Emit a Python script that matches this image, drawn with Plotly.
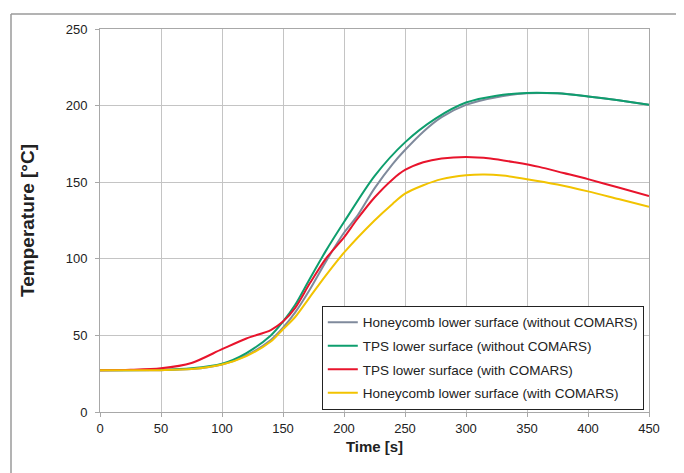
import plotly.graph_objects as go

# Time [s]
t_hc_wo = [0, 50, 75, 100, 120, 140, 150, 160, 172, 185, 200, 210, 225, 240, 250, 265, 280, 300, 325, 350, 375, 400, 425, 450]
v_hc_wo = [27.2, 27.3, 28.0, 31.0, 37.0, 47.0, 55.0, 65.0, 80.0, 98.0, 117.0, 127.0, 146.0, 162.0, 171.0, 183.0, 192.5, 200.5, 205.5, 208.0, 208.0, 206.0, 203.5, 200.5]

t_tps_wo = [0, 50, 75, 100, 120, 140, 150, 160, 172, 185, 200, 225, 250, 275, 300, 325, 350, 375, 400, 425, 450]
v_tps_wo = [27.2, 27.5, 28.5, 31.5, 38.5, 50.0, 59.0, 70.0, 87.0, 105.0, 124.0, 154.0, 176.0, 191.5, 202.0, 206.5, 208.3, 208.0, 206.0, 203.5, 200.5]

t_tps_w = [0, 25, 50, 75, 100, 120, 140, 150, 160, 172, 185, 200, 210, 225, 240, 250, 265, 280, 300, 320, 340, 360, 380, 400, 425, 450]
v_tps_w = [27.2, 27.5, 28.5, 32.0, 41.0, 48.0, 53.5, 59.0, 68.0, 84.0, 100.0, 114.0, 125.0, 140.0, 152.0, 158.0, 163.0, 165.5, 166.5, 165.5, 163.0, 160.0, 156.0, 152.0, 146.5, 141.0]

t_hc_w = [0, 50, 75, 100, 120, 140, 150, 160, 172, 185, 200, 225, 240, 250, 265, 280, 300, 315, 330, 350, 375, 400, 425, 450]
v_hc_w = [27.2, 27.3, 28.0, 31.0, 36.5, 46.0, 54.0, 62.0, 75.0, 89.0, 104.0, 125.0, 136.0, 142.5, 148.0, 152.0, 154.5, 155.0, 154.3, 152.0, 148.5, 144.0, 139.0, 134.0]

names = [
    "Honeycomb lower surface (without COMARS)",
    "TPS lower surface (without COMARS)",
    "TPS lower surface (with COMARS)",
    "Honeycomb lower surface (with COMARS)",
]
colors = ["#7f8a9c", "#0e9e6e", "#e8142c", "#f2c300"]

x_ticks = [0, 50, 100, 150, 200, 250, 300, 350, 400, 450]
y_ticks = [0, 50, 100, 150, 200, 250]

fig = go.Figure()
for i, (tx, vy, nm, c) in enumerate(zip([t_hc_wo, t_tps_wo, t_tps_w, t_hc_w],
                                        [v_hc_wo, v_tps_wo, v_tps_w, v_hc_w], names, colors)):
    fig.add_trace(go.Scatter(x=tx, y=vy, name=nm, mode="lines", legendgroup=f"g{i}",
                             line=dict(color=c, width=2, shape="spline", smoothing=0.8)))

font_fam = "Liberation Sans, Arial, sans-serif"
fig.update_layout(
    width=684, height=473,
    margin=dict(l=92, r=43, t=21, b=69),
    paper_bgcolor="white", plot_bgcolor="white",
    font=dict(family=font_fam, size=13, color="#222"),
    showlegend=True,
    legend=dict(x=0.404, y=0.277, xanchor="left", yanchor="top",
                bgcolor="white", bordercolor="#222", borderwidth=1,
                font=dict(size=13.5, color="#222"), itemwidth=30,
                tracegroupgap=3),
    xaxis=dict(range=[0, 450], tickvals=x_ticks, ticktext=[str(v) for v in x_ticks],
               showgrid=True, gridcolor="#c4c4c4", gridwidth=1,
               showline=True, linecolor="#a8a8a8", linewidth=1, mirror=True,
               ticks="outside", ticklen=4, tickcolor="#a8a8a8",
               zeroline=False, tickfont=dict(size=13), automargin=False,
               title=dict(text="<b>Time [s]</b>", font=dict(size=15), standoff=6)),
    yaxis=dict(range=[0, 250], tickvals=y_ticks, ticktext=[str(v) for v in y_ticks],
               showgrid=True, gridcolor="#c4c4c4", gridwidth=1,
               showline=True, linecolor="#a8a8a8", linewidth=1, mirror=True,
               ticks="outside", ticklen=4, tickcolor="#a8a8a8", ticklabelstandoff=5,
               zeroline=False, tickfont=dict(size=13), automargin=False,
               title=dict(text="<b>Temperature [°C]</b>", font=dict(size=19), standoff=26)),
)

# outer frame lines (top and left) of the original figure border
fig.add_shape(type="line", xref="paper", yref="paper",
              x0=(11 - 100) / 549, x1=(700 - 100) / 549,
              y0=(412 - 14) / 383, y1=(412 - 14) / 383,
              line=dict(color="#9a9a9a", width=1.5))
fig.add_shape(type="line", xref="paper", yref="paper",
              x0=(11 - 100) / 549, x1=(11 - 100) / 549,
              y0=(412 - 14) / 383, y1=(412 - 490) / 383,
              line=dict(color="#9a9a9a", width=1.5))

fig.write_html("out.html")
